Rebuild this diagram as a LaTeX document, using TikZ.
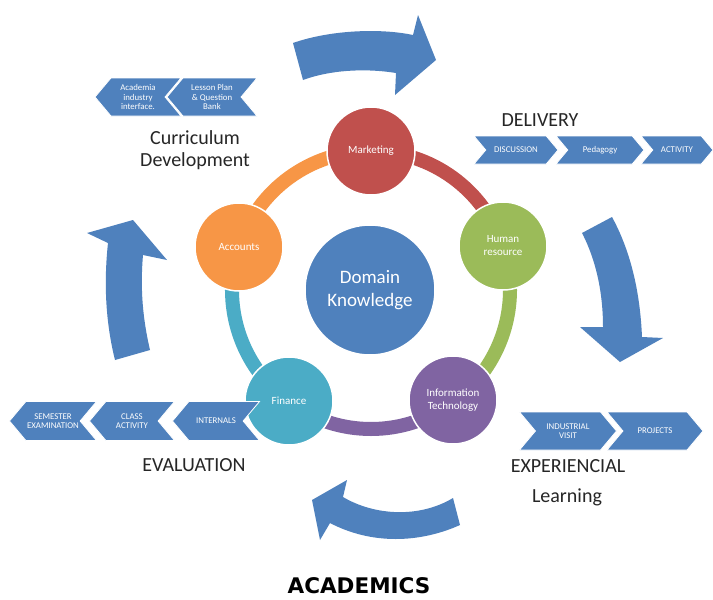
\documentclass[tikz,border=0pt]{standalone}
\usepackage{fontspec}
\setmainfont{Carlito}
\newfontfamily\dejavu{DejaVu Sans}
\usetikzlibrary{shapes.symbols}
\definecolor{cblue}{HTML}{4F81BD}
\definecolor{cred}{HTML}{C0504D}
\definecolor{cgreen}{HTML}{9BBB59}
\definecolor{cpurple}{HTML}{8064A2}
\definecolor{cteal}{HTML}{4BACC6}
\definecolor{corange}{HTML}{F79646}
\tikzset{
  ball/.style={circle, draw=white, line width=1.5pt, minimum size=88pt, inner sep=0pt, text=white, font=\fontsize{11}{13}\selectfont, align=center},
  core/.style={circle, draw=white, line width=1.5pt, fill=cblue, minimum size=130pt, inner sep=0pt, text=white, font=\fontsize{19}{23}\selectfont, align=center},
  chev/.style={signal, signal pointer angle=100, fill=cblue, draw=white, line width=0.8pt, inner sep=0pt, text=white, font=\fontsize{8.8}{9.6}\selectfont, align=center},
  chevR/.style={chev, signal to=east, signal from=west},
  chevL/.style={chev, signal to=west, signal from=east},
  lbl/.style={font=\fontsize{20}{24}\selectfont, text=black!85, inner sep=0pt},
  ringseg/.style={line width=14pt},
  bigarrow/.style={fill=cblue, draw=none}
}
\begin{document}
\begin{tikzpicture}[x=1pt, y=-1pt]
\useasboundingbox (0,0) rectangle (713,600);
\fill[white] (0,0) rectangle (713,600);

% ring segments
\coordinate (ctr) at (371,290);
\draw[ringseg, cred]    (ctr) ++(-90:139) arc[start angle=-90, end angle=-18, radius=139];
\draw[ringseg, cgreen]  (ctr) ++(-18:139) arc[start angle=-18, end angle=54, radius=139];
\draw[ringseg, cpurple] (ctr) ++(54:139)  arc[start angle=54, end angle=126, radius=139];
\draw[ringseg, cteal]   (ctr) ++(126:139) arc[start angle=126, end angle=198, radius=139];
\draw[ringseg, corange] (ctr) ++(198:139) arc[start angle=198, end angle=270, radius=139];

% circles
\node[core] (dk) at (370,290) {Domain\\Knowledge};
\node[ball, fill=cred]    (mk) at (371,151) {Marketing};
\node[ball, fill=cgreen]  (hr) at (503,246) {Human\\resource};
\node[ball, fill=cpurple] (it) at (453,400) {Information\\Technology};
\node[ball, fill=cteal]   (fi) at (289,401) {Finance};
\node[ball, fill=corange] (ac) at (239,247) {Accounts};

% big curved arrows
\path[bigarrow] (293,43) .. controls (330,30) and (380,28) .. (413,35) -- (418,15) -- (436,60) -- (395,95) -- (396,73)
  .. controls (365,68) and (330,70) .. (303,80) -- cycle;
\path[bigarrow] (582,233) .. controls (597,262) and (603,295) .. (603,327) -- (580,327) -- (620,362) -- (663,338) -- (642,337)
  .. controls (640,290) and (630,250) .. (612,217) -- cycle;
\path[bigarrow] (453,498) .. controls (420,518) and (375,516) .. (343,497) -- (347,480) -- (312,500) -- (320,540) -- (330,523)
  .. controls (372,545) and (420,543) .. (460,525) -- cycle;
\path[bigarrow] (115,360) .. controls (105,320) and (104,280) .. (108,243) -- (87,233) -- (133,220) -- (167,260) -- (143,255)
  .. controls (140,290) and (143,320) .. (150,350) -- cycle;

% chevrons: delivery
\node[chevR, minimum width=84pt, minimum height=28pt] (c1) at (516,150) {DISCUSSION};
\node[chevR, minimum width=88pt, minimum height=28pt] (c2) at (600,150) {Pedagogy};
\node[chevR, minimum width=72pt, minimum height=28pt] (c3) at (677,150) {ACTIVITY};
% experiential
\node[chevR, minimum width=97pt, minimum height=38pt] (e1) at (568,431) {INDUSTRIAL\\VISIT};
\node[chevR, minimum width=96pt, minimum height=38pt] (e2) at (655,431) {PROJECTS};
% evaluation
\node[chevL, minimum width=87pt, minimum height=39pt] (v1) at (53,421) {SEMESTER\\EXAMINATION};
\node[chevL, minimum width=85pt, minimum height=39pt] (v2) at (132,421) {CLASS\\ACTIVITY};
\node[chevL, minimum width=87pt, minimum height=39pt] (v3) at (216,421) {INTERNALS};
% curriculum
\node[chevL, minimum width=86pt, minimum height=38pt] (u1) at (138,97) {Academia\\industry\\interface.};
\node[chevL, minimum width=90pt, minimum height=38pt] (u2) at (212,97) {Lesson Plan\\\& Question\\Bank};

% labels
\node[lbl] (cur) at (195,138) {Curriculum};
\node[lbl] (dev) at (195,161) {Development};
\node[lbl] (del) at (540,120) {DELIVERY};
\node[lbl] (exp) at (568,466) {EXPERIENCIAL};
\node[lbl] (lea) at (567,497) {Learning};
\node[lbl] (eva) at (194,465) {EVALUATION};
\node[font=\dejavu\bfseries\fontsize{21.5}{26}\selectfont, inner sep=0pt] (aca) at (359,586) {ACADEMICS};
\end{tikzpicture}
\end{document}
